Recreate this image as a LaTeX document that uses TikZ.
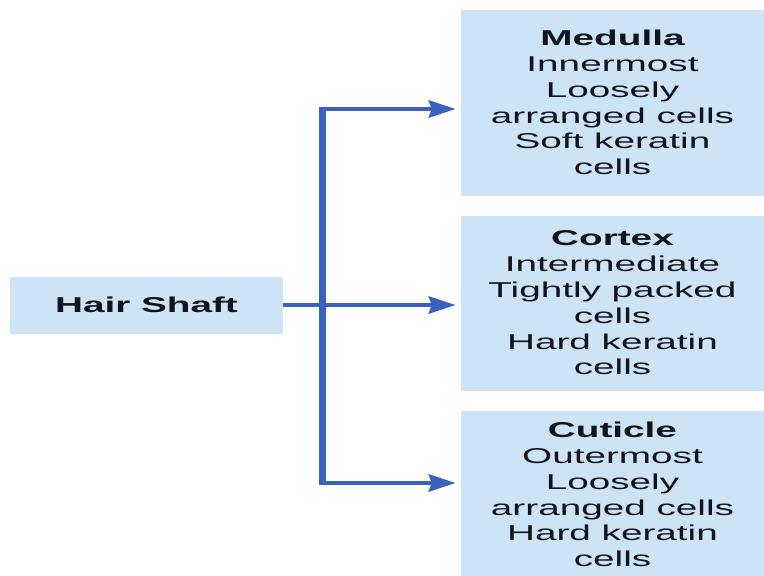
\documentclass[tikz,border=0pt]{standalone}
\usepackage{fontspec}
\setmainfont[FakeStretch=1.8]{Liberation Sans}
\usetikzlibrary{arrows.meta}
\definecolor{boxfill}{HTML}{CDE3F6}
\definecolor{linkblue}{HTML}{3A62BE}
\definecolor{inkdark}{HTML}{121419}
\begin{document}
\begin{tikzpicture}[x=1pt,y=-1pt,
  layerbox/.style={fill=boxfill, draw=none, inner sep=0pt, align=center,
    text=inkdark, font=\fontsize{21.5}{25.8}\selectfont, minimum width=303pt},
  rootbox/.style={fill=boxfill, draw=none, inner sep=0pt, text=inkdark,
    font=\fontsize{21.5}{25.8}\selectfont\bfseries,
    minimum width=273pt, minimum height=57pt},
  trunk/.style={draw=linkblue, line width=7pt},
  branch/.style={draw=linkblue, line width=4.5pt,
    -{Stealth[length=27pt,width=17pt,inset=3pt]}, shorten >=5pt}
]
\useasboundingbox (0,0) rectangle (764,576);
\fill[white] (0,0) rectangle (764,576);

% the three layers of the shaft
\node[layerbox, minimum height=186pt] (med) at (612.5,102.5)
  {{\bfseries Medulla}\\Innermost\\Loosely\\arranged cells\\Soft keratin\\cells};
\node[layerbox, minimum height=175pt] (cor) at (612.5,303)
  {{\bfseries Cortex}\\Intermediate\\Tightly packed\\cells\\Hard keratin\\cells};
\node[layerbox, minimum height=168pt] (cut) at (612.5,494.5)
  {{\bfseries Cuticle}\\Outermost\\Loosely\\arranged cells\\Hard keratin\\cells};

% the shaft itself
\node[rootbox] (hs) at (146.5,305) {Hair Shaft};

% branching connector
\coordinate (jtop) at (322,109);
\coordinate (jbot) at (322,483);
\draw[trunk] ([yshift=-2.25pt]jtop) -- ([yshift=2.25pt]jbot);
\draw[branch] ([xshift=-3.5pt]jtop) -- (jtop -| med.west);
\draw[branch] (hs.east) -- (hs.east -| cor.west);
\draw[branch] ([xshift=-3.5pt]jbot) -- (jbot -| cut.west);
\end{tikzpicture}
\end{document}
